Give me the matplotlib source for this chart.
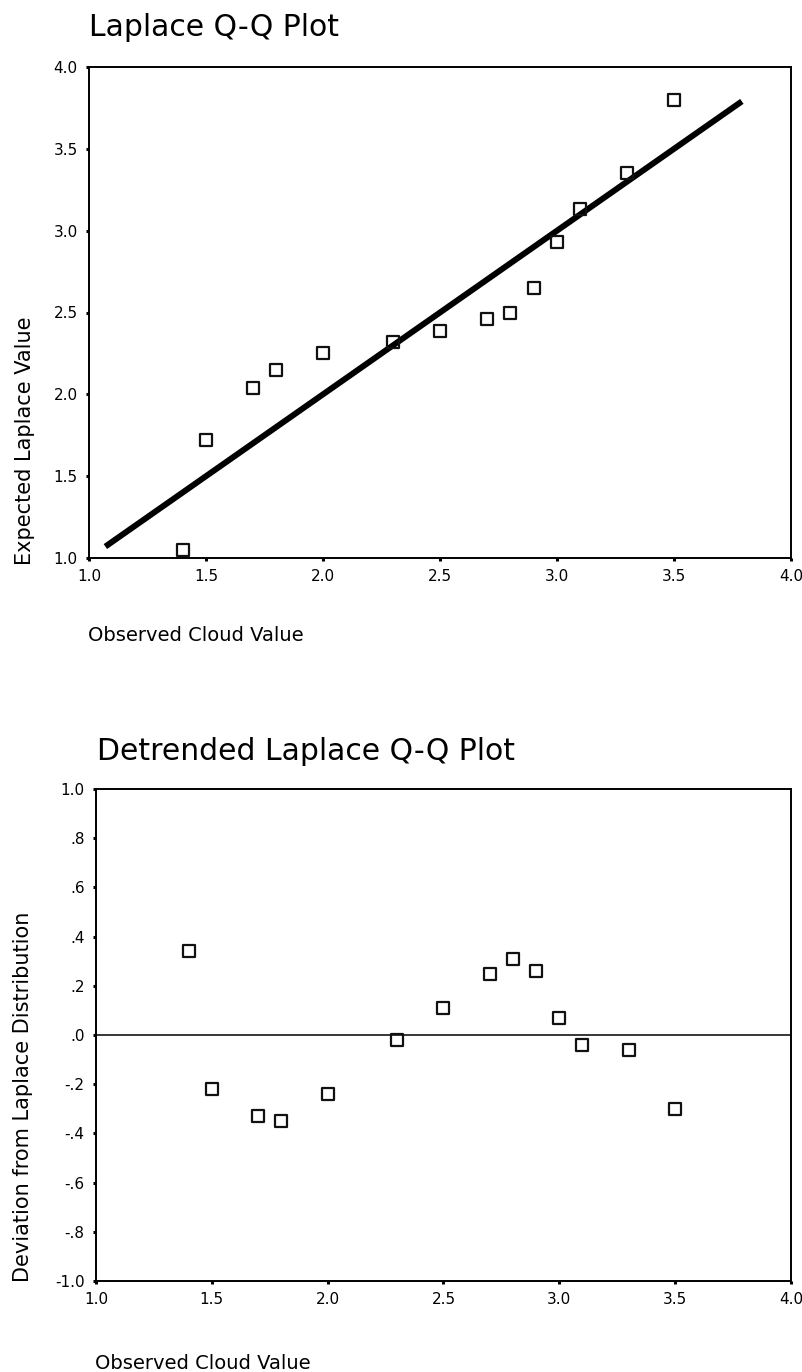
import matplotlib
matplotlib.use("Agg")
import matplotlib.pyplot as plt
from matplotlib.markers import MarkerStyle

# observed cloud values
observed = [1.4, 1.5, 1.7, 1.8, 2.0, 2.3, 2.5, 2.7, 2.8, 2.9, 3.0, 3.1, 3.3, 3.5]
# expected laplace values (top plot)
expected = [1.05, 1.72, 2.04, 2.15, 2.25, 2.32, 2.39, 2.46, 2.50, 2.65, 2.93, 3.13, 3.35, 3.80]
# deviation from laplace distribution (bottom plot)
deviation = [0.34, -0.22, -0.33, -0.35, -0.24, -0.02, 0.11, 0.25, 0.31, 0.26, 0.07, -0.04, -0.06, -0.30]

# reference line end points
line_x = [1.07, 3.79]
line_y = [1.07, 3.79]

top_ticks = [1.0, 1.5, 2.0, 2.5, 3.0, 3.5, 4.0]
top_labels = ["1.0", "1.5", "2.0", "2.5", "3.0", "3.5", "4.0"]
dev_ticks = [1.0, 0.8, 0.6, 0.4, 0.2, 0.0, -0.2, -0.4, -0.6, -0.8, -1.0]
dev_labels = ["1.0", ".8", ".6", ".4", ".2", ".0", "-.2", "-.4", "-.6", "-.8", "-1.0"]

plt.rcParams['font.family'] = ['DejaVu Sans']

W, H = 803, 1372
fig = plt.figure(figsize=(W / 100, H / 100), dpi=100)


def px_axes(left, top, right, bottom):
    return fig.add_axes([left / W, 1 - bottom / H, (right - left) / W, (bottom - top) / H])


def style_axes(ax):
    for s in ax.spines.values():
        s.set_linewidth(1.4)
        s.set_color("black")
    ax.tick_params(direction="out", length=2.2, width=2.2, labelsize=11, colors="black")
    ax.tick_params(axis="x", pad=6)
    ax.tick_params(axis="y", pad=6)


marker = MarkerStyle("s", fillstyle="none", joinstyle="round")

# ---- top: Q-Q plot
ax1 = px_axes(89, 67, 791, 558)
ax1.plot(line_x, line_y, color="black", lw=4.3, solid_capstyle="butt")
ax1.plot(observed, expected, linestyle="none", marker=marker, markersize=8,
         markeredgewidth=1.6, color="#111111")
ax1.set_xlim(1, 4)
ax1.set_ylim(1, 4)
ax1.set_xticks(top_ticks)
ax1.set_xticklabels(top_labels)
ax1.set_yticks(top_ticks)
ax1.set_yticklabels(top_labels)
style_axes(ax1)

# ---- bottom: detrended plot
ax2 = px_axes(96, 789, 791, 1281)
ax2.axhline(0, color="black", lw=1.1)
ax2.plot(observed, deviation, linestyle="none", marker=marker, markersize=8,
         markeredgewidth=1.6, color="#111111")
ax2.set_xlim(1, 4)
ax2.set_ylim(-1, 1)
ax2.set_xticks(top_ticks)
ax2.set_xticklabels(top_labels)
ax2.set_yticks(dev_ticks)
ax2.set_yticklabels(dev_labels)
style_axes(ax2)

# titles and labels
fig.text(89 / W, 1 - 36 / H, "Laplace Q-Q Plot", fontsize=21.5, va="baseline", ha="left")
fig.text(97 / W, 1 - 760 / H, "Detrended Laplace Q-Q Plot", fontsize=21.5, va="baseline", ha="left")
fig.text(25 / W, 1 - 565 / H, "Expected Laplace Value", fontsize=15, rotation=90,
         ha="center", va="bottom")
fig.text(23 / W, 1 - 1282 / H, "Deviation from Laplace Distribution", fontsize=15, rotation=90,
         ha="center", va="bottom")
fig.text(88 / W, 1 - 641 / H, "Observed Cloud Value", fontsize=14, va="baseline", ha="left")
fig.text(95 / W, 1 - 1369 / H, "Observed Cloud Value", fontsize=14, va="baseline", ha="left")

fig.savefig("out.png", dpi=100, facecolor="white")
